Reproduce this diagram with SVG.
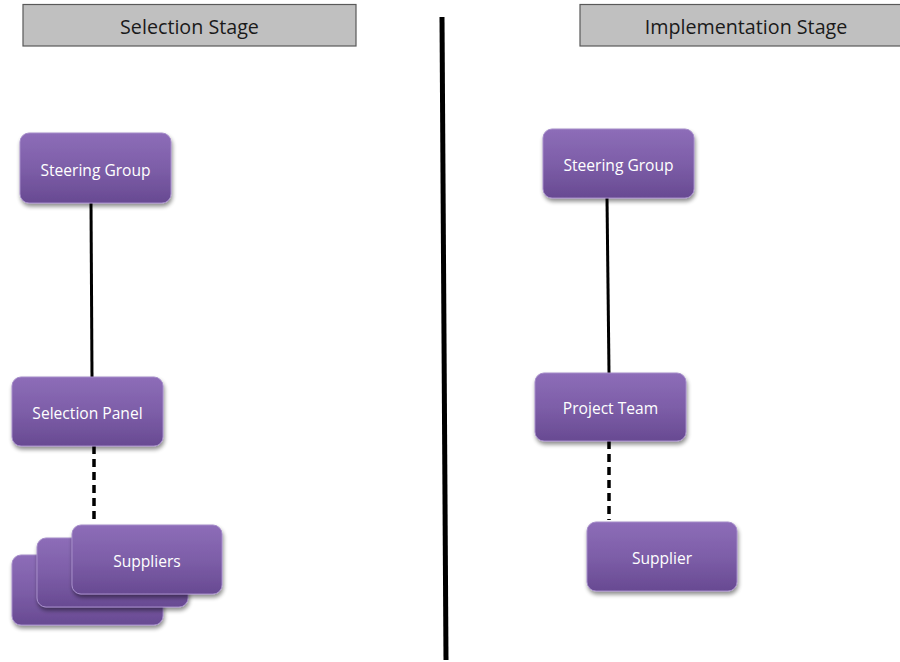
<svg xmlns="http://www.w3.org/2000/svg" width="900" height="662" viewBox="0 0 900 662">
<defs>
<linearGradient id="pg" x1="0" y1="0" x2="0" y2="1">
<stop offset="0" stop-color="#8d6db8"/>
<stop offset="0.5" stop-color="#7d5ea8"/>
<stop offset="1" stop-color="#684a92"/>
</linearGradient>
<filter id="sh" x="-10%" y="-10%" width="125%" height="135%">
<feGaussianBlur in="SourceAlpha" stdDeviation="2"/>
<feOffset dx="1" dy="3"/>
<feComponentTransfer><feFuncA type="linear" slope="0.45"/></feComponentTransfer>
<feMerge><feMergeNode/><feMergeNode in="SourceGraphic"/></feMerge>
</filter>
</defs>
<style>
.hdr{fill:#c0c0c0;stroke:#595959;stroke-width:1.2}
.ht{font-family:"Open Sans","Liberation Sans",sans-serif;font-size:19.7px;fill:#1a1a1a;text-anchor:middle}
.box{fill:url(#pg);stroke:#a58cc9;stroke-width:1;filter:url(#sh)}
.nt{font-family:"Open Sans","Liberation Sans",sans-serif;font-size:15.6px;font-weight:500;fill:#ffffff;text-anchor:middle}
.solid{stroke:#000;stroke-width:3;fill:none}
.dash{stroke:#000;stroke-width:3.5;stroke-dasharray:8,5;fill:none}
</style>
<rect width="900" height="662" fill="#ffffff"/>
<g id="hdr-selection"><rect class="hdr" x="23" y="4.5" width="333" height="41.5"/><text class="ht" x="189.5" y="34">Selection Stage</text></g>
<g id="hdr-implementation"><rect class="hdr" x="580" y="4.5" width="322" height="41.5"/><text class="ht" x="746" y="34">Implementation Stage</text></g>
<g id="connectors">
<line x1="442" y1="17" x2="446" y2="660" stroke="#000" stroke-width="5"/>
<line class="solid" x1="91" y1="203" x2="92" y2="377"/>
<line class="dash" x1="94" y1="446" x2="94" y2="523"/>
<line class="solid" x1="607" y1="198" x2="609" y2="373"/>
<line class="dash" x1="609" y1="441" x2="609" y2="520"/>
</g>
<g id="steering-group-1"><rect class="box" x="20" y="133" width="151" height="70" rx="9"/><text class="nt" x="95.5" y="175.5">Steering Group</text></g>
<g id="selection-panel"><rect class="box" x="12" y="377" width="151" height="69" rx="9"/><text class="nt" x="87.5" y="418.5">Selection Panel</text></g>
<g id="suppliers">
<rect class="box" x="12" y="555" width="151" height="70" rx="9"/>
<rect class="box" x="37" y="538" width="151" height="69" rx="9"/>
<rect class="box" x="72" y="525" width="150" height="69" rx="9"/>
<text class="nt" x="147" y="566.5">Suppliers</text>
</g>
<g id="steering-group-2"><rect class="box" x="543" y="129" width="151" height="69" rx="9"/><text class="nt" x="618.5" y="170.5">Steering Group</text></g>
<g id="project-team"><rect class="box" x="535" y="373" width="151" height="68" rx="9"/><text class="nt" x="610.5" y="413.5">Project Team</text></g>
<g id="supplier"><rect class="box" x="587" y="522" width="150" height="69" rx="9"/><text class="nt" x="662" y="563.5">Supplier</text></g>
</svg>
